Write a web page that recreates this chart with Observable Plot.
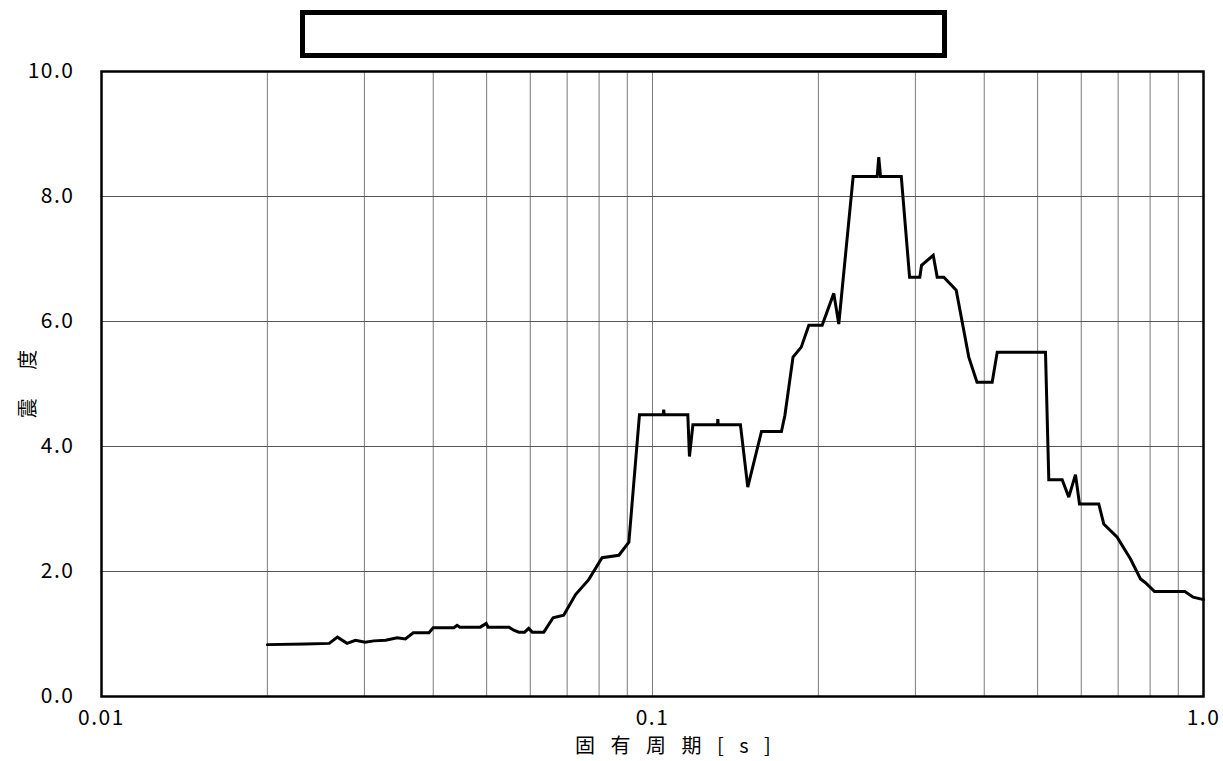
<!DOCTYPE html>
<html>
<head>
<meta charset="utf-8">
<script src="https://cdn.jsdelivr.net/npm/d3@7"></script>
<script src="https://cdn.jsdelivr.net/npm/@observablehq/plot@0.6"></script>
<style>
  html, body { margin: 0; padding: 0; background: #fff; }
  #wrap { position: relative; width: 1223px; height: 761px; overflow: hidden; font-family: "Noto Sans CJK JP", "DejaVu Sans", sans-serif; }
  #titlebox { position: absolute; left: 300px; top: 10px; width: 637px; height: 38px; border: 5.5px solid #000; background: #fff; }
  #xlabel { position: absolute; left: 575px; top: 735px; font-size: 20px; letter-spacing: 5.5px; color: #000; white-space: pre; line-height: 1; }
  #ylabel { position: absolute; left: 27px; top: 378px; font-size: 20px; letter-spacing: 12px; color: #000; white-space: pre; line-height: 1; transform: translate(-50%, -50%) rotate(-90deg); }
</style>
</head>
<body>
<div id="wrap">
  <div id="chart"></div>
  <div id="titlebox"></div>
  <div id="xlabel">固 有 周 期 [ s ]</div>
  <div id="ylabel">震 度</div>
</div>
<script>
// 固有周期 [s]
const periods = [
  0.0200, 0.0235, 0.0259, 0.0268, 0.0279, 0.0289, 0.0301, 0.0312, 0.0328, 0.0344,
  0.0356, 0.0368, 0.0393, 0.0400, 0.0436, 0.0442, 0.0447, 0.0487, 0.0499, 0.0503,
  0.0549, 0.0560, 0.0572, 0.0586, 0.0596, 0.0605, 0.0635, 0.0660, 0.0690, 0.0725,
  0.0766, 0.0810, 0.0869, 0.0906, 0.0947, 0.1046, 0.1048, 0.1050, 0.1159, 0.1167,
  0.1184, 0.1312, 0.1314, 0.1316, 0.1444, 0.1489, 0.1577, 0.1714, 0.1739, 0.1799,
  0.1862, 0.1922, 0.2032, 0.2133, 0.2178, 0.2313, 0.2557, 0.2574, 0.2593, 0.2828,
  0.2928, 0.3056, 0.3078, 0.3232, 0.3286, 0.3379, 0.3558, 0.3750, 0.3881, 0.4135,
  0.4223, 0.5167, 0.5239, 0.5540, 0.5695, 0.5857, 0.5956, 0.6456, 0.6592, 0.6971,
  0.7371, 0.7686, 0.7847, 0.8149, 0.9249, 0.9579, 1.0000
];
// 震度
const intensity = [
  0.83, 0.84, 0.85, 0.95, 0.85, 0.90, 0.87, 0.89, 0.90, 0.94,
  0.92, 1.02, 1.02, 1.10, 1.10, 1.14, 1.11, 1.11, 1.17, 1.11,
  1.11, 1.06, 1.03, 1.03, 1.09, 1.03, 1.03, 1.26, 1.30, 1.63,
  1.87, 2.22, 2.26, 2.47, 4.51, 4.51, 4.59, 4.51, 4.51, 3.84,
  4.35, 4.35, 4.44, 4.35, 4.35, 3.35, 4.24, 4.24, 4.50, 5.43,
  5.59, 5.94, 5.94, 6.45, 5.96, 8.32, 8.32, 8.63, 8.32, 8.32,
  6.71, 6.71, 6.90, 7.06, 6.71, 6.71, 6.50, 5.43, 5.03, 5.03,
  5.51, 5.51, 3.47, 3.47, 3.19, 3.55, 3.08, 3.08, 2.76, 2.55,
  2.20, 1.88, 1.82, 1.68, 1.68, 1.59, 1.55
];
const xTickValues = [0.01, 0.1, 1];
const xTickLabels = ["0.01", "0.1", "1.0"];
const xGridValues = [0.02, 0.03, 0.04, 0.05, 0.06, 0.07, 0.08, 0.09, 0.1,
                     0.2, 0.3, 0.4, 0.5, 0.6, 0.7, 0.8, 0.9];
const yTickValues = [0, 2, 4, 6, 8, 10];
const yGridValues = [2, 4, 6, 8];

const data = periods.map((p, i) => ({period: p, value: intensity[i]}));

const chart = Plot.plot({
  width: 1223,
  height: 761,
  marginLeft: 101,
  marginRight: 20,
  marginTop: 71,
  marginBottom: 65,
  style: {fontFamily: "'Noto Sans CJK JP', sans-serif", fontSize: "21px", letterSpacing: "1.5px", color: "#000", background: "#fff"},
  x: {type: "log", domain: [0.01, 1]},
  y: {domain: [0, 10]},
  marks: [
    Plot.ruleX(xGridValues, {stroke: "#7a7a7a", strokeWidth: 1}),
    Plot.ruleY(yGridValues, {stroke: "#555", strokeWidth: 1}),
    Plot.line(data, {x: "period", y: "value", stroke: "#000", strokeWidth: 3, strokeLinejoin: "miter", strokeMiterlimit: 3}),
    Plot.frame({stroke: "#000", strokeWidth: 2.5}),
    Plot.axisX({ticks: xTickValues, tickFormat: d => xTickLabels[xTickValues.indexOf(d)], tickSize: 0, tickPadding: 14, label: null, fontSize: 21}),
    Plot.axisY({ticks: yTickValues, tickFormat: d => d.toFixed(1), tickSize: 0, tickPadding: 27, label: null, fontSize: 21})
  ]
});
document.getElementById("chart").appendChild(chart);
</script>
</body>
</html>
